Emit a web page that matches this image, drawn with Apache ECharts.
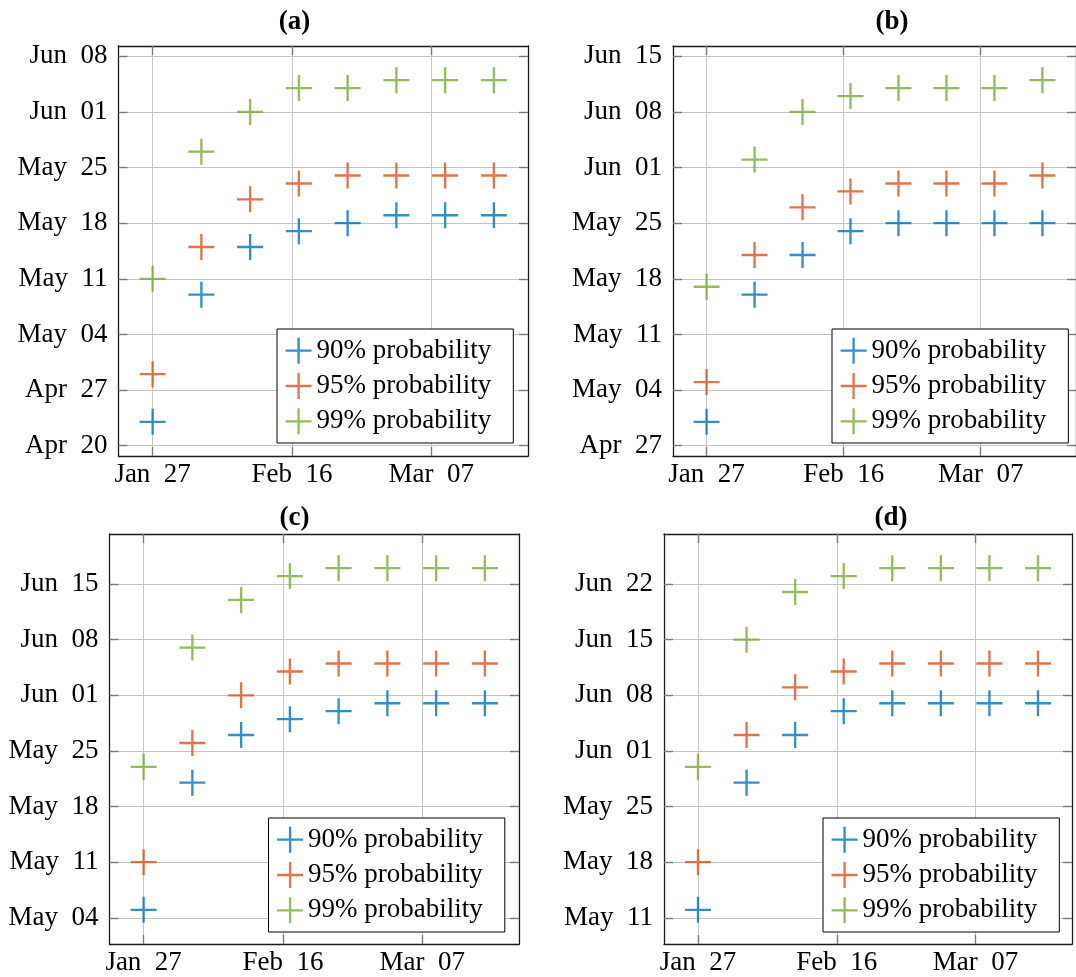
<!DOCTYPE html>
<html>
<head>
<meta charset="utf-8">
<title>Predicted end dates</title>
<script src="https://cdn.jsdelivr.net/npm/echarts@6.0.0/dist/echarts.min.js"></script>
<style>
  html, body { margin: 0; padding: 0; background: #fff; }
  #chart { width: 1076px; height: 977px; }
</style>
</head>
<body>
<div id="chart"></div>
<script>
// weekly forecast runs (2020) and x tick dates
const weeks = ['01-27', '02-03', '02-10', '02-17', '02-24', '03-02', '03-09', '03-16']
const xTicks = ['01-27', '02-16', '03-07']
const names = ['90% probability', '95% probability', '99% probability']

// (a)
const a90 = ['04-23', '05-09', '05-15', '05-17', '05-18', '05-19', '05-19', '05-19']
const a95 = ['04-29', '05-15', '05-21', '05-23', '05-24', '05-24', '05-24', '05-24']
const a99 = ['05-11', '05-27', '06-01', '06-04', '06-04', '06-05', '06-05', '06-05']
const yTicksA = ['04-20', '04-27', '05-04', '05-11', '05-18', '05-25', '06-01', '06-08']

// (b)
const b90 = ['04-30', '05-16', '05-21', '05-24', '05-25', '05-25', '05-25', '05-25']
const b95 = ['05-05', '05-21', '05-27', '05-29', '05-30', '05-30', '05-30', '05-31']
const b99 = ['05-17', '06-02', '06-08', '06-10', '06-11', '06-11', '06-11', '06-12']
const yTicksB = ['04-27', '05-04', '05-11', '05-18', '05-25', '06-01', '06-08', '06-15']

// (c)
const c90 = ['05-05', '05-21', '05-27', '05-29', '05-30', '05-31', '05-31', '05-31']
const c95 = ['05-11', '05-26', '06-01', '06-04', '06-05', '06-05', '06-05', '06-05']
const c99 = ['05-23', '06-07', '06-13', '06-16', '06-17', '06-17', '06-17', '06-17']
const yTicksC = ['05-04', '05-11', '05-18', '05-25', '06-01', '06-08', '06-15']

// (d)
const d90 = ['05-12', '05-28', '06-03', '06-06', '06-07', '06-07', '06-07', '06-07']
const d95 = ['05-18', '06-03', '06-09', '06-11', '06-12', '06-12', '06-12', '06-12']
const d99 = ['05-30', '06-15', '06-21', '06-23', '06-24', '06-24', '06-24', '06-24']
const yTicksD = ['05-11', '05-18', '05-25', '06-01', '06-08', '06-15', '06-22']

const FONT = 'Liberation Serif'
const FONT_SIZE = 27
const COLORS = ['#0072BD', '#D95319', '#77AC30']
const PLUS = 'path://M45.5,0H54.5V45.5H100V54.5H54.5V100H45.5V54.5H0V45.5H45.5Z'
const MONTHS = ['Jan', 'Feb', 'Mar', 'Apr', 'May', 'Jun', 'Jul']
const BASE = Date.UTC(2020, 0, 27)

// days since Jan 27, 2020
function day(s) {
  const [m, d] = s.split('-').map(Number)
  return (Date.UTC(2020, m - 1, d) - BASE) / 86400000
}

function dateLabel(v) {
  const t = new Date(BASE + Math.round(v) * 86400000)
  return MONTHS[t.getUTCMonth()] + '  ' + String(t.getUTCDate()).padStart(2, '0')
}

// 10% padding on both ends, like pgfplots enlarge limits
function padded(vals) {
  const lo = Math.min(...vals)
  const hi = Math.max(...vals)
  const pad = (hi - lo) * 0.1
  return [lo - pad, hi + pad]
}

const panels = [
  { title: '(a)', data: [a90, a95, a99], yTicks: yTicksA,
    grid: { left: 118.5, top: 46, width: 409.5, height: 410 },
    titlePos: [294.5, 9], legendPos: [277, 329] },
  { title: '(b)', data: [b90, b95, b99], yTicks: yTicksB,
    grid: { left: 673, top: 46, width: 410, height: 410 },
    titlePos: [892, 9], legendPos: [832, 329] },
  { title: '(c)', data: [c90, c95, c99], yTicks: yTicksC,
    grid: { left: 109.5, top: 534, width: 409.5, height: 410 },
    titlePos: [294.5, 505], legendPos: [268.5, 818] },
  { title: '(d)', data: [d90, d95, d99], yTicks: yTicksD,
    grid: { left: 664, top: 534, width: 408, height: 410 },
    titlePos: [891, 505], legendPos: [823, 818] }
]

function makeAxis(gridIndex, position, range, ticks, main) {
  const vertical = position === 'left' || position === 'right'
  return {
    type: 'value',
    gridIndex,
    position,
    min: range[0],
    max: range[1],
    axisLine: { show: true, onZero: false, lineStyle: { color: '#1a1a1a', width: 1.3 } },
    axisTick: {
      show: true, inside: true, length: 9, customValues: ticks,
      lineStyle: { color: '#7a7a7a', width: 1.4 }
    },
    axisLabel: {
      show: main, customValues: ticks, formatter: dateLabel,
      margin: vertical ? 11 : 5,
      fontFamily: FONT, fontSize: FONT_SIZE, color: '#000'
    },
    splitLine: { show: main, lineStyle: { color: '#c4c4c4', width: 1 } }
  }
}

function renderChart() {
  const chart = echarts.init(document.getElementById('chart'))
  const xRange = padded(weeks.map(day))
  const xTickVals = xTicks.map(day)

  const option = {
    animation: false,
    backgroundColor: '#fff',
    title: [], grid: [], xAxis: [], yAxis: [], legend: [], series: []
  }

  panels.forEach((p, i) => {
    const yRange = padded(p.data.flat().map(day))
    const yTickVals = p.yTicks.map(day)

    option.title.push({
      text: p.title, left: p.titlePos[0], top: p.titlePos[1], textAlign: 'center', padding: 0,
      textStyle: { fontFamily: FONT, fontSize: FONT_SIZE, fontWeight: 'bold', color: '#000' }
    })
    option.grid.push(Object.assign({ containLabel: false }, p.grid))

    option.xAxis.push(makeAxis(i, 'bottom', xRange, xTickVals, true))
    option.xAxis.push(makeAxis(i, 'top', xRange, xTickVals, false))
    option.yAxis.push(makeAxis(i, 'left', yRange, yTickVals, true))
    option.yAxis.push(makeAxis(i, 'right', yRange, yTickVals, false))

    p.data.forEach((vals, k) => {
      option.series.push({
        type: 'scatter',
        name: names[k],
        xAxisIndex: 2 * i,
        yAxisIndex: 2 * i,
        data: weeks.map((w, j) => [day(w), day(vals[j])]),
        symbol: PLUS,
        symbolSize: 26,
        itemStyle: { color: COLORS[k] },
        silent: true
      })
    })

    option.legend.push({
      data: names,
      orient: 'vertical',
      left: p.legendPos[0],
      top: p.legendPos[1],
      icon: PLUS,
      itemWidth: 26,
      itemHeight: 26,
      itemGap: 8.3,
      padding: [8.2, 22, 8.2, 8.6],
      backgroundColor: '#fff',
      borderColor: '#000',
      borderWidth: 1,
      selectedMode: false,
      textStyle: { fontFamily: FONT, fontSize: FONT_SIZE, color: '#000' }
    })
  })

  chart.setOption(option)
}

renderChart()
</script>
</body>
</html>
